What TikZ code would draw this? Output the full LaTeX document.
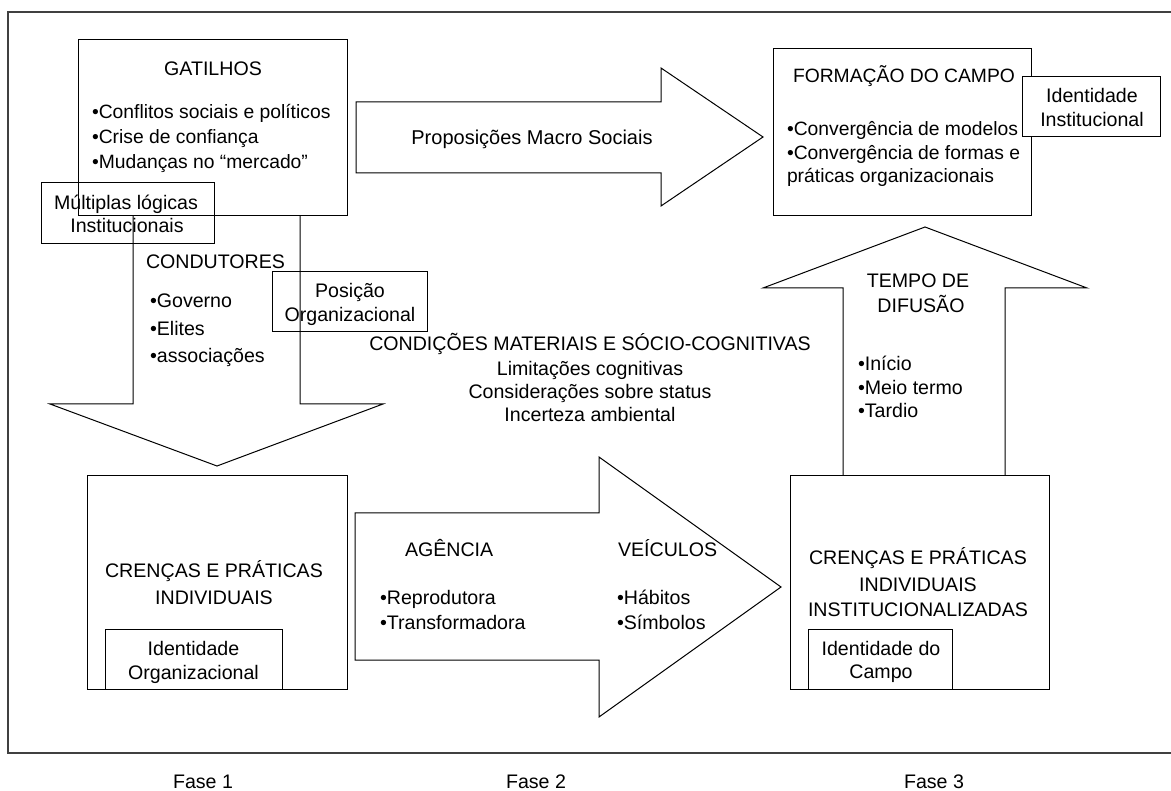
\documentclass[tikz,border=0pt]{standalone}
\usepackage{fontspec}
\setmainfont{Liberation Sans}
\begin{document}
\begin{tikzpicture}[x=1pt,y=-1pt,line width=1pt,
  box/.style={draw,inner sep=0pt,outer sep=0pt},
  txt/.style={inner sep=0pt,outer sep=0pt,font=\fontsize{19.6}{24}\selectfont},
  small/.style={font=\fontsize{19.3}{24}\selectfont},
  lt/.style={txt,anchor=base west},
  ct/.style={txt,anchor=base},
  blockarrow/.style={draw,line join=miter}]
\useasboundingbox (0,0) rectangle (1171,791);
% frame
\draw[black!75,line width=1.2pt] (1180,12) -- (8,12) -- (8,753) -- (1180,753);
% block arrows
\draw[blockarrow] (133,216) -- (133,404) -- (50,404) -- (217,466) -- (383,404) -- (300,404) -- (300,216);
\draw[blockarrow] (356,102) -- (661,102) -- (661,68) -- (763,137) -- (661,206) -- (661,173) -- (356,173) -- cycle;
\draw[blockarrow] (843,476) -- (843,288) -- (763,288) -- (925,227) -- (1087,288) -- (1005,288) -- (1005,476);
\draw[blockarrow] (355,513) -- (599,513) -- (599,457) -- (781,587) -- (599,717) -- (599,660) -- (355,660) -- cycle;
% boxes
\node[box,minimum width=269pt,minimum height=176pt] (gat) at (212.5,128) {};
\node[box,minimum width=173pt,minimum height=61pt] (mult) at (127.5,213.5) {};
\node[box,minimum width=155pt,minimum height=60pt] (pos) at (349.5,302) {};
\node[box,minimum width=258pt,minimum height=167pt] (form) at (902,132.5) {};
\node[box,fill=white,minimum width=138pt,minimum height=60pt] (idinst) at (1091,107) {};
\node[box,minimum width=260pt,minimum height=213pt] (crind) at (217,582.5) {};
\node[box,minimum width=177pt,minimum height=60pt] (idorg) at (193.5,659) {};
\node[box,minimum width=259pt,minimum height=213pt] (crinst) at (919.5,582.5) {};
\node[box,minimum width=144pt,minimum height=60pt] (idcamp) at (880,659) {};
% texts: GATILHOS
\node[ct] (tgat) at (213,76) {GATILHOS};
\node[lt,small] (tgat1) at (92,119) {•Conflitos sociais e políticos};
\node[lt,small] (tgat2) at (92,144) {•Crise de confiança};
\node[lt,small] (tgat3) at (92,169) {•Mudanças no “mercado”};
% Multiplas logicas
\node[ct] (tmult1) at (126,210) {Múltiplas lógicas};
\node[ct] (tmult2) at (127,233) {Institucionais};
% CONDUTORES
\node[lt] (tcond) at (146,269) {CONDUTORES};
\node[lt] (tcond1) at (150,308) {•Governo};
\node[lt] (tcond2) at (150,336) {•Elites};
\node[lt] (tcond3) at (150,363) {•associações};
% Posicao
\node[ct] (tpos1) at (350,298) {Posição};
\node[ct] (tpos2) at (350,322) {Organizacional};
% Condicoes
\node[ct] (tcd1) at (590,351) {CONDIÇÕES MATERIAIS E SÓCIO-COGNITIVAS};
\node[ct] (tcd2) at (590,376) {Limitações cognitivas};
\node[ct] (tcd3) at (590,399) {Considerações sobre status};
\node[ct] (tcd4) at (590,422) {Incerteza ambiental};
% Proposicoes
\node[ct,font=\fontsize{20}{24}\selectfont] (tprop) at (532,145) {Proposições Macro Sociais};
% Formacao
\node[lt,small] (tform) at (793,83) {FORMAÇÃO DO CAMPO};
\node[lt,small] (tform1) at (787,136) {•Convergência de modelos};
\node[lt,small] (tform2) at (787,160) {•Convergência de formas e};
\node[lt,small] (tform3) at (787,183) {práticas organizacionais};
\node[ct] (tidinst1) at (1092,103) {Identidade};
\node[ct] (tidinst2) at (1092,127) {Institucional};
% Tempo
\node[ct] (ttempo1) at (918,288) {TEMPO DE};
\node[ct] (ttempo2) at (921,313) {DIFUSÃO};
\node[lt] (ttempo3) at (858,371) {•Início};
\node[lt] (ttempo4) at (858,395) {•Meio termo};
\node[lt] (ttempo5) at (858,418) {•Tardio};
% Crencas inst
\node[ct] (tci1) at (918,565) {CRENÇAS E PRÁTICAS};
\node[ct] (tci2) at (918,591) {INDIVIDUAIS};
\node[ct] (tci3) at (918,616) {INSTITUCIONALIZADAS};
\node[ct] (tidc1) at (881,655) {Identidade do};
\node[ct] (tidc2) at (881,678) {Campo};
% Crencas ind
\node[ct] (tcr1) at (214,577) {CRENÇAS E PRÁTICAS};
\node[ct] (tcr2) at (214,604) {INDIVIDUAIS};
\node[ct] (tido1) at (193.5,655) {Identidade};
\node[ct] (tido2) at (193.5,679) {Organizacional};
% Agencia / Veiculos
\node[lt] (tag) at (405,557) {AGÊNCIA};
\node[lt] (tag1) at (380,604) {•Reprodutora};
\node[lt] (tag2) at (380,629) {•Transformadora};
\node[lt] (tveic) at (618,557) {VEÍCULOS};
\node[lt] (tveic1) at (617,604) {•Hábitos};
\node[lt] (tveic2) at (617,629) {•Símbolos};
% Fases
\node[ct] (fase1) at (203,788) {Fase 1};
\node[ct] (fase2) at (536,788) {Fase 2};
\node[ct] (fase3) at (934,788) {Fase 3};
\end{tikzpicture}
\end{document}
